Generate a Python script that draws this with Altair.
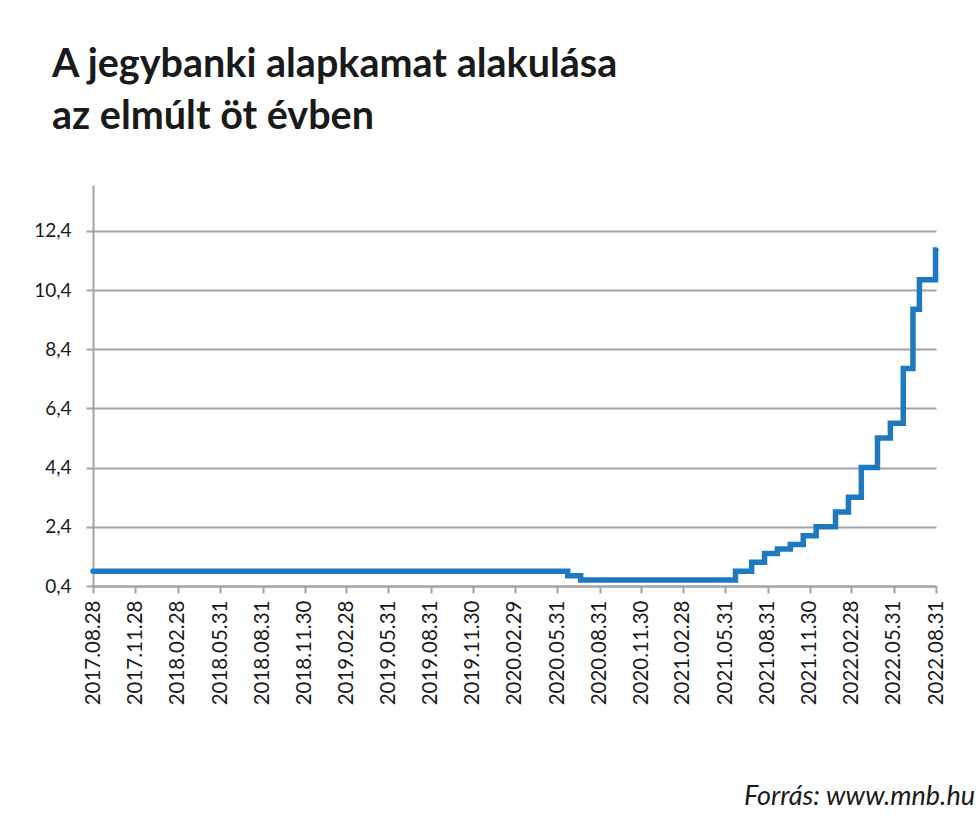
import altair as alt
import pandas as pd

# Base-rate change dates and rates (%)
change_dates = ["2017-08-28", "2020-06-23", "2020-07-21", "2021-06-22", "2021-07-27",
                "2021-08-24", "2021-09-21", "2021-10-19", "2021-11-16", "2021-12-14",
                "2022-01-25", "2022-02-22", "2022-03-22", "2022-04-26", "2022-05-24",
                "2022-06-21", "2022-07-12", "2022-07-26", "2022-08-30", "2022-08-31"]
rates = [0.9, 0.75, 0.6, 0.9, 1.2,
         1.5, 1.65, 1.8, 2.1, 2.4,
         2.9, 3.4, 4.4, 5.4, 5.9,
         7.75, 9.75, 10.75, 11.75, 11.75]

tick_dates = ["2017.08.28", "2017.11.28", "2018.02.28", "2018.05.31", "2018.08.31",
              "2018.11.30", "2019.02.28", "2019.05.31", "2019.08.31", "2019.11.30",
              "2020.02.29", "2020.05.31", "2020.08.31", "2020.11.30", "2021.02.28",
              "2021.05.31", "2021.08.31", "2021.11.30", "2022.02.28", "2022.05.31",
              "2022.08.31"]
y_ticks = [0.4, 2.4, 4.4, 6.4, 8.4, 10.4, 12.4]
y_max = 13.95

title_lines = ["A jegybanki alapkamat alakulása", "az elmúlt öt évben"]
source_text = ["Forrás: www.mnb.hu"]

def dt(s):
    y, m, d = s.split(".")
    return alt.DateTime(year=int(y), month=int(m), date=int(d), utc=True)

df = pd.DataFrame({"date": change_dates, "rate": rates})

grey = "#a3a3a3"
txt = "#1a1a1a"

line = alt.Chart(df).mark_line(
    interpolate="step-after", color="#1f79c1", strokeWidth=5.5, strokeCap="round"
).encode(
    x=alt.X("date:T",
            scale=alt.Scale(type="utc", domain=[dt(tick_dates[0]), dt(tick_dates[-1])]),
            axis=alt.Axis(values=[dt(t) for t in tick_dates],
                          labelExpr="utcFormat(datum.value, '%Y.%m.%d')",
                          labelAngle=-90, labelFont="Lato", labelFontSize=20.5,
                          labelColor=txt, labelPadding=7, tickSize=7,
                          tickColor=grey, tickWidth=2, domainColor=grey,
                          domainWidth=2, grid=False, title=None,
                          labelOverlap=False, labelBound=False, labelFlush=False)),
    y=alt.Y("rate:Q",
            scale=alt.Scale(domain=[0.4, y_max], nice=False, zero=False),
            axis=alt.Axis(values=y_ticks,
                          labelExpr="replace(format(datum.value, '.1f'), '.', ',')",
                          labelFont="Lato", labelFontSize=19, labelColor=txt,
                          labelPadding=15, tickSize=7, tickColor=grey, tickWidth=2,
                          domainColor=grey, domainWidth=2, gridColor=grey,
                          gridWidth=2, title=None, labelOverlap=False))
)

src = alt.Chart(pd.DataFrame({"t": source_text})).mark_text(
    font="Lato", fontStyle="italic", fontSize=27, color=txt,
    align="right", baseline="alphabetic"
).encode(text="t:N", x=alt.value(882), y=alt.value(620))

chart = alt.layer(line, src).properties(
    width=843, height=401,
    title=alt.TitleParams(text=title_lines, anchor="start", frame="group",
                          font="Lato", fontWeight="bold", fontSize=39.5,
                          lineHeight=52, color=txt, dx=-41, offset=9,
                          baseline="bottom"),
    autosize=alt.AutoSizeParams(type="none"),
    padding={"left": 93, "top": 185, "right": 44, "bottom": 232},
    background="white",
).configure_view(stroke=None)

chart.save("out.html", embed_options={"renderer": "svg", "actions": False})
